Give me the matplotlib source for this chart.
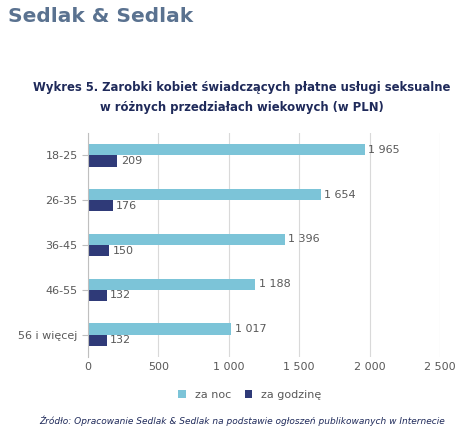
import matplotlib
matplotlib.use("Agg")
import matplotlib.pyplot as plt
import numpy as np

categories = ["18-25", "26-35", "36-45", "46-55", "56 i więcej"]
za_noc = [1965, 1654, 1396, 1188, 1017]
za_godzine = [209, 176, 150, 132, 132]
xticks = [0, 500, 1000, 1500, 2000, 2500]
xticklabels = ["0", "500", "1 000", "1 500", "2 000", "2 500"]

def fmt(v):
    return f"{v:,}".replace(",", " ")

fig = plt.figure(figsize=(4.69, 4.42), dpi=100)
ax = fig.add_axes([88 / 469, 1 - 357 / 442, (440 - 88) / 469, (357 - 133) / 442])

light = "#7CC4D8"
dark = "#2F3A78"
y = np.arange(len(categories))
h = 0.25
ax.barh(y - h / 2, za_noc, height=h, color=light, label="za noc")
ax.barh(y + h / 2, za_godzine, height=h, color=dark, label="za godzinę")
for yi, a, b in zip(y, za_noc, za_godzine):
    ax.text(a + 25, yi - h / 2, fmt(a), va="center", ha="left", fontsize=8, color="#595959")
    ax.text(b + 25, yi + h / 2, fmt(b), va="center", ha="left", fontsize=8, color="#595959")

ax.set_ylim(len(categories) - 0.5, -0.5)
ax.set_yticks(y)
ax.set_yticklabels(categories, fontsize=8, color="#595959")
ax.set_xlim(0, 2500)
ax.set_xticks(xticks)
ax.set_xticklabels(xticklabels, fontsize=8, color="#595959")
ax.grid(axis="x", color="#D9D9D9", linewidth=0.8)
ax.set_axisbelow(True)
for s in ["top", "right", "bottom"]:
    ax.spines[s].set_visible(False)
ax.spines["left"].set_color("#BFBFBF")
ax.tick_params(axis="both", length=0)
ax.tick_params(axis="y", length=4, color="#BFBFBF", direction="out")

fig.legend(loc="center", bbox_to_anchor=(250 / 469, 1 - 395 / 442), ncol=2, frameon=False,
           fontsize=8, handlelength=0.7, handleheight=0.7, columnspacing=1.2,
           labelcolor="#595959")

fig.text(8 / 469, 1 - 16 / 442, "Sedlak & Sedlak", fontsize=14.5, fontweight="bold",
         color="#5A7290", va="center", ha="left")
fig.text(242 / 469, 1 - 88 / 442, "Wykres 5. Zarobki kobiet świadczących płatne usługi seksualne",
         fontsize=8.4, fontweight="bold", color="#1F2A5A", ha="center", va="center")
fig.text(242 / 469, 1 - 108 / 442, "w różnych przedziałach wiekowych (w PLN)",
         fontsize=8.4, fontweight="bold", color="#1F2A5A", ha="center", va="center")
fig.text(242 / 469, 1 - 421 / 442,
         "Źródło: Opracowanie Sedlak & Sedlak na podstawie ogłoszeń publikowanych w Internecie",
         fontsize=6.5, style="italic", color="#1F2A5A", ha="center", va="center")

fig.savefig("out.png", dpi=100)
